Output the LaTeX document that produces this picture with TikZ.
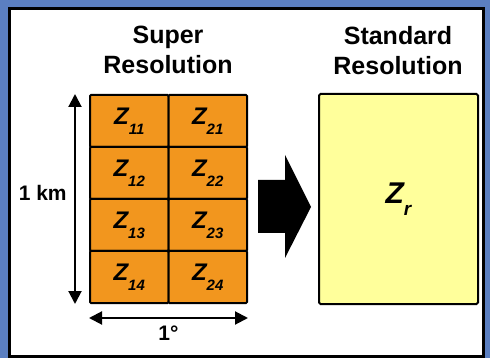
\documentclass[tikz,border=0pt]{standalone}
\usepackage{fontspec}
\setmainfont{Liberation Sans}
\usetikzlibrary{
    positioning,
    arrows.meta
}
\definecolor{fondo}{RGB}{91,127,193}
\definecolor{naranja}{RGB}{242,150,30}
\definecolor{amarillo}{RGB}{255,255,155}
\newcommand{\zsub}[3][15]{#2\raisebox{-0.42em}{\fontsize{#1}{#1}\selectfont #3}}
\tikzset{
    >={Triangle[length=13pt,width=13pt]},
    cell/.style={
        draw,
        fill=naranja,
        line width=2pt,
        rounded corners=1pt,
        minimum width=78.5pt,
        minimum height=52pt,
        inner sep=0pt,
        font=\bfseries\itshape\fontsize{24}{24}\selectfont
    },
    bigbox/.style={
        draw,
        fill=amarillo,
        line width=2pt,
        rounded corners=1.5pt,
        minimum width=159pt,
        minimum height=210pt,
        inner sep=0pt,
        font=\bfseries\itshape\fontsize{30}{30}\selectfont
    },
    title/.style={
        align=center,
        inner sep=0pt,
        font=\bfseries\fontsize{25}{30}\selectfont
    },
    dim/.style={
        <->,
        line width=2pt
    }
}

\begin{document}
\begin{tikzpicture}[
    x=1pt,
    y=-1pt
]
    \useasboundingbox (0,0) rectangle (490,358);

    % Marco
    \fill[fondo] (0,0) rectangle (490,358);
    \draw[line width=3pt, fill=white] (9.5,8.5) rectangle (483,356.5);

    % Titulos
    \node[title, anchor=north] (tsup) at (168,26)   {Super\\Resolution};
    \node[title, anchor=north] (tstd) at (398,26)   {Standard\\Resolution};

    % Celdas
    \node[cell] (z11) at (129.25,121) {\zsub{Z}{11}};
    \node[cell] (z21) at (207.75,121) {\zsub{Z}{21}};
    \node[cell] (z12) at (129.25,173) {\zsub{Z}{12}};
    \node[cell] (z22) at (207.75,173) {\zsub{Z}{22}};
    \node[cell] (z13) at (129.25,225) {\zsub{Z}{13}};
    \node[cell] (z23) at (207.75,225) {\zsub{Z}{23}};
    \node[cell] (z14) at (129.25,277) {\zsub{Z}{14}};
    \node[cell] (z24) at (207.75,277) {\zsub{Z}{24}};

    \node[bigbox] (zr) at (398.5,199) {\zsub[19]{Z}{r}};

    % Dimensiones
    \draw[dim] ([xshift=-14pt]z11.north west)
        -- node[left=4pt, yshift=6pt, font=\bfseries\fontsize{21}{21}\selectfont] {1 km}
        ([xshift=-14pt]z14.south west);
    \draw[dim] ([yshift=-14pt]z14.south west)
        -- node[below=4pt, font=\bfseries\fontsize{21}{21}\selectfont] {1°}
        ([yshift=-14pt]z24.south east);

    % Flecha
    \fill (258,180) -- (285,180) -- (285,155) -- (311,207)
        -- (285,258) -- (285,233) -- (258,233) -- cycle;

\end{tikzpicture}
\end{document}
